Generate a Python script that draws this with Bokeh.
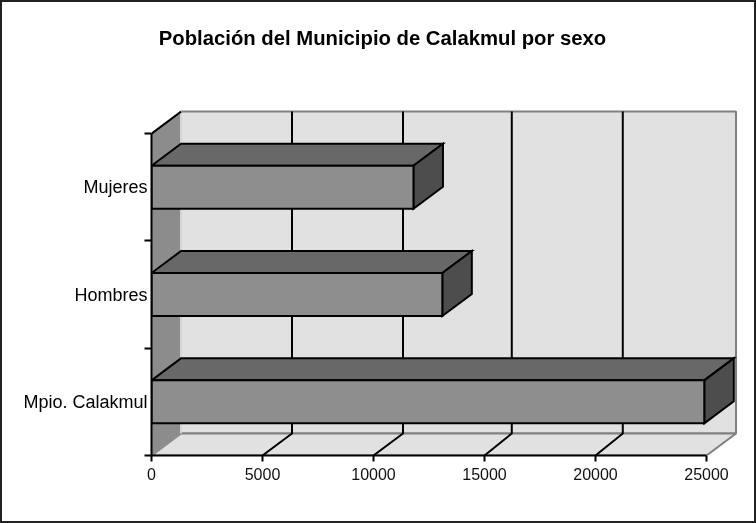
from bokeh.plotting import figure
from bokeh.models import FixedTicker, Label, Range1d
from bokeh.embed import file_html
from bokeh.resources import INLINE

title = "Población del Municipio de Calakmul por sexo"
categories = ["Mpio. Calakmul", "Hombres", "Mujeres"]
values = [24900, 13100, 11800]
x_ticks = [0, 5000, 10000, 15000, 20000, 25000]
wall_grid = [5000, 10000, 14900, 19900]

W, H = 756, 523
LEFT, AXIS_Y = 151, 455
PX_X = 555 / 25000
PX_Y = 107.3
DX = 29.5 / PX_X
DY = 22 / PX_Y
BAR_H = 43 / PX_Y
N = len(categories)

p = figure(width=W, height=H, output_backend="svg", toolbar_location=None,
           x_range=Range1d(0, (W - LEFT) / PX_X), y_range=Range1d(0, AXIS_Y / PX_Y),
           min_border_left=LEFT, min_border_right=0, min_border_top=0,
           min_border_bottom=H - AXIS_Y, outline_line_color=None,
           background_fill_color=None, border_fill_color=None,
           x_axis_location="below", y_axis_location="left")
p.styles = {"position": "fixed", "left": "0px", "top": "0px",
            "box-shadow": "inset 0 0 0 2px #222222"}
p.grid.visible = False

# axes
xa = p.xaxis[0]
xa.ticker = FixedTicker(ticks=x_ticks)
xa.bounds = (0, 25000)
xa.formatter.use_scientific = False
xa.axis_line_color = "black"
xa.axis_line_width = 2
xa.major_tick_line_color = "black"
xa.major_tick_line_width = 2
xa.major_tick_in = 0
xa.major_tick_out = 6
xa.minor_tick_line_color = None
xa.major_label_text_font = "Liberation Sans"
xa.major_label_text_font_size = "16px"
xa.major_label_text_color = "#111111"
xa.major_label_standoff = 6

ya = p.yaxis[0]
ya.ticker = FixedTicker(ticks=[i + 0.5 for i in range(N)], minor_ticks=list(range(N + 1)))
ya.major_label_overrides = {i + 0.5: c for i, c in enumerate(categories)}
ya.bounds = (0, N)
ya.axis_line_color = "black"
ya.axis_line_width = 2
ya.major_tick_line_color = None
ya.major_tick_in = 0
ya.major_tick_out = 0
ya.minor_tick_line_color = "black"
ya.minor_tick_line_width = 2
ya.minor_tick_in = 0
ya.minor_tick_out = 7
ya.major_label_text_font = "Liberation Sans"
ya.major_label_text_font_size = "18px"
ya.major_label_text_color = "black"
ya.major_label_standoff = -3

# walls and floor
x1 = x_ticks[-1]
p.patch([DX, x1 + DX, x1 + DX, DX], [DY, DY, N + DY, N + DY], fill_color="#e1e1e1", line_color="#808080", line_width=2)
p.patch([x1, x1 + DX, DX, 0], [0, DY, DY, 0], fill_color="#e1e1e1", line_color="#808080", line_width=2)
p.patch([0, DX, DX, 0], [0, DY, N + DY, N], fill_color="#8c8c8c", line_color=None)
p.line([DX, DX], [DY, N + DY], line_color="#f0f0f0", line_width=1.5)
p.line([0, DX], [0, DY], line_color="#909090", line_width=1.5)
p.line([0, DX], [N, N + DY], line_color="black", line_width=2)

# gridlines
for t, b in zip(x_ticks[1:-1], wall_grid):
    p.line([t, b + DX, b + DX], [0, DY, N + DY], line_color="black", line_width=2)

# bars, back to front
for i in reversed(range(N)):
    v = values[i]
    y0 = i + 0.5 - BAR_H / 2
    y1 = i + 0.5 + BAR_H / 2
    p.patch([0, DX, v + DX, v], [y1, y1 + DY, y1 + DY, y1], fill_color="#686868", line_color="black", line_width=2, line_join="miter")
    p.patch([v, v + DX, v + DX, v], [y0, y0 + DY, y1 + DY, y1], fill_color="#4d4d4d", line_color="black", line_width=2, line_join="miter")
    p.patch([0, v, v, 0], [y0, y0, y1, y1], fill_color="#8e8e8e", line_color="black", line_width=2, line_join="miter")

# title (screen units are measured from the frame's lower left corner)
p.add_layout(Label(x=382 - LEFT, y=AXIS_Y - 37, x_units="screen", y_units="screen", text=title,
                   text_font="Liberation Sans", text_font_style="bold", text_font_size="20.3px",
                   text_align="center", text_baseline="middle", text_color="black"))

open("out.html", "w").write(file_html(p, INLINE))
